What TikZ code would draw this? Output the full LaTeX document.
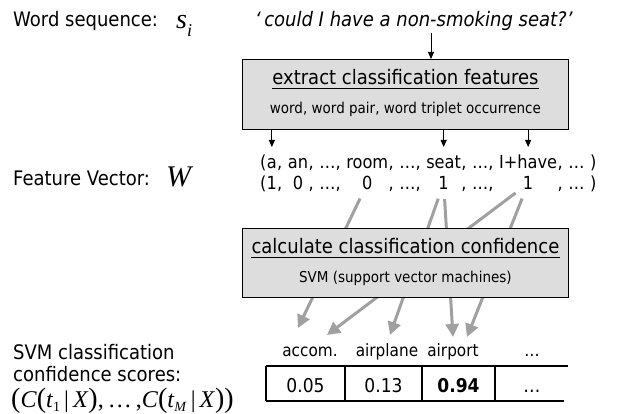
\documentclass[tikz,border=0pt]{standalone}
\usepackage{fontspec}
\setmainfont{DejaVu Sans}[FakeStretch=0.9]
\newfontfamily\tms{Liberation Serif}
\usetikzlibrary{arrows.meta,calc}
\definecolor{boxgray}{HTML}{DDDDDD}
\definecolor{linkgray}{HTML}{A0A0A0}
\newcommand{\fs}[1]{\fontsize{#1}{#1}\selectfont}

\begin{document}
\begin{tikzpicture}[x=1pt,y=-1pt,
  lbl/.style={anchor=base west, inner sep=0pt, font=\fs{20}},
  procbox/.style={draw=black, line width=0.8pt, fill=boxgray, minimum width=326pt,
                  minimum height=70pt, anchor=north west, inner sep=0pt},
  boxtitle/.style={font=\fs{20}, inner sep=0pt, anchor=base},
  boxsub/.style={font=\fs{15}, inner sep=0pt, anchor=base},
  tok/.style={font=\fs{18}, inner sep=0pt, anchor=base west},
  gap/.style={tok, xshift=5.2pt},
  val/.style={font=\fs{18}, inner sep=0pt, anchor=base},
  hdr/.style={font=\fs{17}, inner sep=0pt, anchor=base},
  cell/.style={font=\fs{19}, inner sep=0pt, anchor=base},
  thinarrow/.style={draw=black, line width=0.8pt, -{Triangle[length=7pt,width=6pt]}},
  link/.style={draw=linkgray, line width=3pt, -{Triangle[length=13pt,width=13pt]}},
  tbl/.style={draw=black, line width=1.2pt},
  uline/.style={draw=black, line width=0.8pt},
]
\useasboundingbox (0,0) rectangle (622,414);

% ---- left column labels ----
\node[lbl] (wslabel) at (13,27) {Word sequence:};
\node[anchor=base west, inner sep=0pt] (wsvar) at (176,29)
  {{\tms\itshape\fs{28}s}\raisebox{-8pt}{\tms\itshape\fs{18}i}};
\node[lbl] (fvlabel) at (13,186) {Feature Vector:};
\node[anchor=base west, inner sep=0pt] (fvvar) at (166,187) {\tms\itshape\fs{30}W};
\node[lbl] (svm1) at (13,360) {SVM classification};
\node[lbl] (svm2) at (13,382) {confidence scores:};
\node[anchor=base west, inner sep=0pt] (formula) at (11,408)
  {\tms\fs{24}{\fs{28}(}\textit{C}{\fs{28}(}\textit{t}\raisebox{-4pt}{\fs{14}1}\,|\,\textit{X}{\fs{28})},\,…\,,\textit{C}{\fs{28}(}\textit{t}\raisebox{-4pt}{\fs{14}\textit{M}}\,|\,\textit{X}{\fs{28})}{\fs{28})}};

% ---- input sentence ----
\node[anchor=base west, inner sep=0pt, font=\fs{20}\itshape] (quote) at (255,27)
  {‘\,could I have a non-smoking seat?’};
\coordinate (qarrow) at (431,33);

% ---- feature extraction box ----
\node[procbox] (extract) at (242,59) {};
\node[boxtitle] (extitle) at ([yshift=-26pt]extract.north) {extract classification features};
\draw[uline] ([yshift=-3.5pt]extitle.base west) -- ([yshift=-3.5pt]extitle.base east);
\node[boxsub] (exsub) at ([yshift=-55pt]extract.north) {word, word pair, word triplet occurrence};
\draw[thinarrow] (qarrow) -- (qarrow |- extract.north);

% ---- feature names row ----
\node[tok] (t0) at (260,169) {(};
\node[tok] (ta) at (t0.base east) {a};
\node[tok] (tac) at (ta.base east) {,};
\node[gap] (tan) at (tac.base east) {an};
\node[tok] (tanc) at (tan.base east) {,};
\node[gap] (te1) at (tanc.base east) {…,};
\node[gap] (troom) at (te1.base east) {room};
\node[tok] (troomc) at (troom.base east) {,};
\node[gap] (te2) at (troomc.base east) {…,};
\node[gap] (tseat) at (te2.base east) {seat};
\node[tok] (tseatc) at (tseat.base east) {,};
\node[gap] (te3) at (tseatc.base east) {…,};
\node[gap] (thave) at (te3.base east) {I+have};
\node[tok] (thavec) at (thave.base east) {,};
\node[gap] (te4) at (thavec.base east) {…};
\node[gap] (tclose) at (te4.base east) {)};

% ---- feature values row, each entry under its name ----
\coordinate (vrow) at (260,190);
\node[val] (v0) at (t0.base |- vrow) {(};
\node[val] (va) at (ta.base |- vrow) {1};
\node[val] (vac) at (tac.base |- vrow) {,};
\node[val] (van) at (tan.base |- vrow) {0};
\node[val] (vanc) at (tanc.base |- vrow) {,};
\node[val] (ve1) at (te1.base |- vrow) {…,};
\node[val] (vroom) at (troom.base |- vrow) {0};
\node[val] (vroomc) at (troomc.base |- vrow) {,};
\node[val] (ve2) at (te2.base |- vrow) {…,};
\node[val] (vseat) at (tseat.base |- vrow) {1};
\node[val] (vseatc) at (tseatc.base |- vrow) {,};
\node[val] (ve3) at (te3.base |- vrow) {…,};
\node[val] (vhave) at (thave.base |- vrow) {1};
\node[val] (vhavec) at (thavec.base |- vrow) {,};
\node[val] (ve4) at (te4.base |- vrow) {…};
\node[val] (vclose) at (tclose.base |- vrow) {)};

% arrows from the extraction box to the feature names
\draw[thinarrow] (extract.south -| ta.base) -- ([yshift=22pt]ta.base);
\draw[thinarrow] (extract.south -| tseat.base) -- ([yshift=22pt]tseat.base);
\draw[thinarrow] (extract.south -| thave.base) -- ([yshift=22pt]thave.base);

% ---- topic headers ----
\node[hdr] (hA) at (310,357) {accom.};
\node[hdr] (hB) at (387,357) {airplane};
\node[hdr] (hC) at (453,357) {airport};
\node[hdr] (hD) at (532,357) {…};

% ---- links from features to topics (behind the SVM box) ----
\draw[link, shorten <=9pt] (vroom) -- ([xshift=-12pt,yshift=29pt]hA.base);
\draw[link, shorten <=9pt] (vhave) -- ([xshift=17pt,yshift=22pt]hA.base);
\draw[link, shorten <=9pt] (vseat) -- ([xshift=3pt,yshift=22pt]hB.base);
\draw[link, shorten <=9pt] (vseat) -- ([yshift=20pt]hC.base);
\draw[link, shorten <=9pt] (vhave) -- ([xshift=14pt,yshift=20pt]hC.base);

% ---- SVM box ----
\node[procbox, minimum height=69pt] (svmbox) at (242,228) {};
\node[boxtitle] (svmtitle) at ([yshift=-26pt]svmbox.north) {calculate classification confidence};
\draw[uline] ([yshift=-3.5pt]svmtitle.base west) -- ([yshift=-3.5pt]svmtitle.base east);
\node[boxsub] (svmsub) at ([yshift=-55pt]svmbox.north) {SVM (support vector machines)};

% ---- score table ----
\node[cell] (c1) at (305.5,392) {0.05};
\node[cell] (c2) at (383.5,392) {0.13};
\node[cell] (c3) at (458.5,392) {\bfseries 0.94};
\node[cell] (c4) at (532,392) {…};
\draw[tbl] (266,366) -- (568,366);
\draw[tbl] (266,401) -- (564,401);
\foreach \cx in {266,345,422,495} \draw[tbl] (\cx,366) -- (\cx,401);
\end{tikzpicture}
\end{document}
